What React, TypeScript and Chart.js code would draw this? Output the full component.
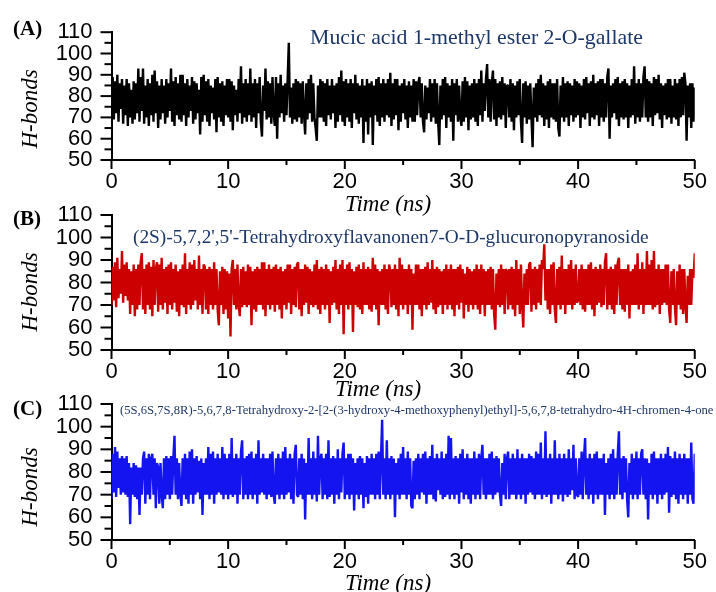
import React, { useEffect, useRef } from "react";
import { Chart, registerables } from "chart.js";

Chart.register(...registerables);

// ---------- data ----------
const TIME_STEP = 0.1; // ns between saved frames
const TIME_MAX = 50;
const Y_MIN = 50;
const Y_MAX = 110;

const hbondsA = [
  80, 89, 69, 87, 72, 90, 68, 86, 74, 88, 67, 85, 71, 88, 66, 86, 70, 83, 67, 87,
  69, 86, 72, 93, 68, 89, 73, 93, 67, 85, 70, 88, 66, 86, 71, 90, 68, 92, 72, 87,
  65, 85, 69, 88, 72, 85, 67, 88, 70, 86, 73, 93, 68, 87, 66, 89, 71, 86, 69, 90,
  68, 90, 71, 86, 66, 88, 70, 85, 73, 89, 67, 87, 69, 86, 72, 83, 62, 89, 68, 90,
  71, 87, 68, 88, 66, 85, 72, 84, 69, 88, 63, 89, 70, 86, 68, 87, 66, 85, 71, 88,
  70, 88, 68, 87, 64, 85, 71, 83, 68, 88, 72, 94, 67, 86, 70, 88, 68, 86, 71, 93,
  68, 86, 70, 88, 65, 86, 72, 89, 68, 61, 85, 73, 93, 69, 87, 70, 86, 67, 89, 72,
  66, 89, 60, 86, 70, 90, 72, 85, 68, 86, 71, 88, 105, 70, 84, 67, 86, 69, 88, 68,
  87, 70, 86, 67, 87, 72, 62, 86, 69, 88, 72, 90, 68, 86, 70, 65, 59, 85, 70, 88,
  70, 87, 68, 86, 66, 88, 71, 85, 69, 88, 72, 85, 65, 86, 68, 89, 71, 92, 68, 87,
  66, 88, 70, 86, 68, 88, 65, 86, 72, 90, 69, 86, 67, 85, 70, 88, 58, 85, 68, 88,
  62, 86, 70, 87, 57, 85, 71, 88, 68, 89, 66, 86, 70, 88, 68, 86, 71, 88, 70, 91,
  66, 86, 69, 88, 71, 88, 64, 85, 68, 86, 72, 88, 69, 85, 65, 87, 70, 85, 68, 88,
  68, 87, 71, 86, 89, 70, 86, 68, 63, 85, 69, 84, 72, 88, 68, 86, 70, 88, 67, 86,
  68, 57, 85, 69, 88, 71, 89, 65, 86, 70, 85, 68, 88, 59, 86, 71, 88, 68, 85, 70,
  66, 87, 68, 89, 70, 87, 64, 85, 69, 86, 70, 88, 68, 86, 66, 88, 71, 92, 68, 86,
  73, 88, 95, 70, 88, 68, 86, 92, 69, 88, 66, 86, 70, 87, 69, 89, 71, 86, 65, 85,
  85, 70, 88, 68, 86, 64, 85, 70, 87, 71, 88, 68, 58, 86, 70, 87, 67, 85, 69, 86,
  70, 56, 84, 70, 86, 68, 88, 71, 90, 70, 86, 66, 85, 69, 87, 65, 88, 70, 86, 69,
  86, 68, 88, 65, 61, 85, 70, 89, 68, 86, 70, 87, 66, 86, 71, 85, 68, 88, 70, 87,
  71, 86, 65, 85, 70, 88, 69, 89, 72, 86, 66, 87, 70, 90, 69, 86, 71, 87, 66, 88,
  70, 88, 68, 86, 70, 89, 93, 60, 85, 70, 86, 72, 88, 69, 89, 66, 86, 70, 87, 69,
  88, 70, 86, 65, 85, 70, 88, 71, 94, 67, 86, 70, 88, 68, 86, 70, 89, 94, 70, 88,
  68, 87, 70, 86, 66, 89, 71, 88, 72, 90, 69, 86, 65, 85, 71, 86, 69, 88, 70, 88,
  67, 85, 70, 88, 69, 86, 66, 88, 70, 89, 71, 91, 86, 59, 85, 70, 86, 65, 86, 68,
  84,
];

const hbondsB = [
  70, 87, 72, 89, 69, 91, 73, 86, 75, 94, 71, 88, 74, 89, 72, 86, 66, 85, 70, 88,
  65, 86, 68, 88, 70, 89, 93, 68, 86, 66, 88, 70, 89, 68, 87, 65, 90, 70, 86, 89,
  67, 88, 70, 91, 68, 86, 71, 87, 66, 88, 70, 89, 68, 86, 71, 88, 67, 85, 65, 86,
  70, 88, 69, 93, 66, 86, 70, 89, 68, 88, 70, 90, 72, 86, 68, 92, 70, 86, 66, 88,
  87, 68, 86, 66, 87, 70, 86, 68, 89, 70, 86, 68, 61, 85, 70, 87, 66, 86, 68, 85,
  64, 84, 56, 86, 90, 70, 86, 68, 88, 70, 65, 86, 69, 87, 70, 85, 69, 88, 70, 87,
  61, 85, 68, 86, 67, 87, 70, 86, 70, 89, 68, 89, 65, 86, 70, 88, 68, 86, 70, 87,
  67, 88, 70, 86, 68, 87, 64, 85, 70, 86, 68, 88, 71, 88, 66, 86, 70, 87, 69, 88,
  89, 68, 86, 65, 86, 70, 88, 71, 87, 66, 86, 70, 85, 69, 88, 70, 90, 68, 86, 66,
  87, 70, 86, 68, 88, 70, 86, 62, 85, 70, 87, 71, 90, 68, 86, 66, 88, 70, 90, 57,
  86, 70, 88, 68, 89, 70, 86, 58, 85, 70, 87, 69, 88, 68, 86, 66, 89, 70, 86, 70,
  87, 68, 86, 67, 91, 70, 88, 68, 86, 61, 85, 70, 86, 70, 88, 68, 86, 66, 88, 85,
  69, 86, 70, 88, 68, 86, 65, 91, 70, 88, 68, 86, 70, 86, 66, 88, 70, 86, 59, 84,
  70, 88, 70, 88, 68, 86, 65, 86, 70, 87, 68, 89, 70, 86, 71, 90, 68, 86, 66, 87,
  69, 86, 70, 85, 66, 86, 70, 88, 68, 86, 70, 88, 68, 86, 65, 86, 70, 87, 68, 88,
  71, 86, 64, 84, 70, 87, 67, 86, 70, 85, 68, 86, 70, 88, 68, 86, 66, 88, 70, 86,
  65, 85, 70, 86, 70, 87, 68, 86, 66, 59, 84, 70, 86, 69, 88, 70, 86, 66, 86, 85,
  68, 86, 70, 87, 68, 86, 65, 90, 70, 86, 66, 88, 70, 60, 84, 70, 86, 70, 88, 89,
  67, 86, 70, 87, 68, 86, 71, 88, 70, 90, 86, 97, 72, 86, 68, 86, 66, 88, 70, 89,
  68, 62, 86, 70, 87, 68, 92, 70, 86, 66, 86, 70, 88, 70, 90, 68, 86, 70, 88, 71,
  72, 86, 70, 88, 68, 86, 67, 86, 70, 88, 70, 89, 68, 86, 65, 87, 70, 86, 71, 88,
  69, 86, 70, 89, 93, 68, 86, 70, 87, 68, 86, 66, 88, 70, 89, 91, 70, 86, 68, 86,
  67, 86, 70, 88, 64, 85, 70, 86, 70, 88, 70, 93, 68, 86, 70, 89, 66, 86, 70, 94,
  70, 88, 70, 90, 68, 94, 69, 86, 70, 88, 66, 86, 70, 86, 71, 88, 70, 88, 68, 62,
  85, 70, 86, 69, 61, 85, 70, 88, 68, 86, 66, 86, 70, 62, 83, 70, 86, 70, 86, 82,
  93,
];

const hbondsC = [
  68, 88, 71, 91, 69, 89, 73, 86, 70, 87, 71, 86, 70, 87, 69, 84, 57, 82, 70, 84,
  69, 83, 68, 82, 61, 82, 70, 86, 89, 66, 86, 70, 88, 68, 86, 88, 70, 86, 64, 84,
  82, 66, 84, 70, 64, 86, 68, 87, 70, 86, 68, 87, 70, 86, 96, 70, 86, 68, 84, 70,
  65, 86, 70, 88, 68, 86, 66, 89, 70, 90, 66, 86, 70, 87, 71, 85, 68, 86, 61, 84,
  70, 86, 70, 91, 68, 88, 70, 89, 66, 86, 70, 88, 71, 86, 70, 91, 68, 88, 70, 86,
  68, 88, 70, 95, 69, 86, 70, 88, 66, 86, 70, 89, 94, 68, 86, 70, 87, 68, 88, 70,
  89, 68, 86, 70, 88, 66, 94, 70, 86, 71, 88, 70, 86, 68, 86, 70, 88, 69, 89, 70,
  66, 86, 70, 88, 68, 86, 70, 89, 68, 91, 70, 86, 71, 88, 68, 86, 66, 88, 92, 70,
  69, 86, 70, 88, 68, 86, 59, 84, 70, 95, 70, 86, 68, 89, 70, 86, 67, 96, 70, 86,
  88, 68, 86, 70, 88, 68, 94, 69, 86, 70, 87, 66, 86, 70, 90, 68, 86, 71, 88, 93,
  68, 86, 70, 88, 68, 88, 70, 86, 63, 84, 70, 86, 68, 87, 70, 86, 64, 84, 69, 87,
  66, 86, 70, 88, 70, 86, 68, 88, 70, 89, 68, 86, 103, 70, 86, 68, 94, 70, 86, 68,
  87, 70, 86, 60, 84, 70, 86, 68, 88, 70, 91, 70, 86, 68, 89, 70, 86, 65, 64, 85,
  68, 86, 70, 88, 68, 86, 71, 88, 70, 89, 66, 86, 70, 87, 70, 92, 68, 86, 67, 88,
  72, 86, 70, 89, 68, 86, 69, 88, 70, 96, 68, 95, 70, 86, 68, 87, 70, 86, 66, 88,
  71, 90, 68, 86, 70, 88, 68, 86, 66, 86, 70, 89, 68, 86, 70, 88, 68, 86, 92, 70,
  86, 68, 86, 70, 88, 70, 89, 68, 86, 70, 87, 71, 86, 70, 65, 84, 70, 88, 68, 86,
  89, 68, 86, 70, 88, 70, 86, 68, 90, 70, 86, 68, 88, 70, 86, 66, 86, 70, 88, 71,
  87, 70, 86, 68, 89, 70, 88, 70, 93, 68, 86, 70, 98, 69, 86, 70, 88, 66, 86, 70,
  94, 70, 86, 68, 88, 70, 86, 67, 88, 70, 86, 69, 90, 70, 86, 72, 92, 68, 86, 70,
  69, 86, 70, 89, 68, 86, 95, 70, 86, 68, 88, 70, 86, 66, 88, 70, 89, 68, 86, 70,
  86, 70, 88, 61, 84, 70, 86, 68, 88, 70, 90, 68, 86, 70, 88, 98, 70, 86, 68, 87,
  71, 86, 68, 60, 84, 70, 88, 68, 86, 70, 89, 68, 86, 70, 88, 90, 70, 86, 68, 86,
  59, 84, 70, 88, 68, 89, 70, 86, 66, 86, 70, 88, 68, 86, 70, 88, 71, 91, 62, 87,
  69, 86, 70, 89, 68, 86, 66, 88, 70, 86, 68, 88, 70, 86, 66, 86, 70, 93, 68, 66,
  88,
];

const panelLabels = ["(A)", "(B)", "(C)"];
const compoundNames = [
  "Mucic acid 1-methyl ester 2-O-gallate",
  "(2S)-5,7,2',5'-Tetrahydroxyflavanonen7-O-D-glucuronopyranoside",
  "(5S,6S,7S,8R)-5,6,7,8-Tetrahydroxy-2-[2-(3-hydroxy-4-methoxyphenyl)ethyl]-5,6,7,8-tetrahydro-4H-chromen-4-one",
];
const xAxisTitle = "Time (ns)";
const yAxisTitle = "H-bonds";

// ---------- layout / style ----------
const W = 716;
const H = 592;
const PLOT_LEFT = 111.5;
const PLOT_RIGHT = 700;
const X_AXIS_H = 30;
const SANS = '"Liberation Sans", Arial, sans-serif';
const SERIF = '"Liberation Serif", "Times New Roman", serif';
const NAME_COLOR = "#1d3768";

const panels = [
  {
    series: hbondsA, color: "#000000", top: 24, bottom: 160,
    labelBase: 35, nameX: 310, nameBase: 44, nameW: 333,
    yTitleY: 109, xTitleX: 388, xTitleBase: 211,
  },
  {
    series: hbondsB, color: "#cc0000", top: 215, bottom: 350,
    labelBase: 225, nameX: 133, nameBase: 243, nameW: 516,
    yTitleY: 292, xTitleX: 378, xTitleBase: 396,
  },
  {
    series: hbondsC, color: "#1414f0", top: 404, bottom: 540,
    labelBase: 415, nameX: 120, nameBase: 414, nameW: 594,
    yTitleY: 487, xTitleX: 388, xTitleBase: 590,
  },
];

function fitSize(ctx: CanvasRenderingContext2D, text: string, style: string, family: string, width: number) {
  ctx.font = `${style} 100px ${family}`;
  const w = ctx.measureText(text).width;
  return (100 * width) / w;
}

function makeDecor(i: number) {
  const p = panels[i];
  return {
    id: "decor" + i,
    afterDraw(chart: any) {
      const ctx: CanvasRenderingContext2D = chart.ctx;
      const xs = chart.scales.x;
      const ys = chart.scales.y;
      const { left, bottom } = chart.chartArea;
      ctx.save();
      ctx.strokeStyle = "#000";
      ctx.lineWidth = 2;
      for (let v = Y_MIN; v <= Y_MAX; v += 5) {
        const y = ys.getPixelForValue(v);
        const len = v % 10 === 0 ? 11 : 7;
        ctx.beginPath();
        ctx.moveTo(left - len, y);
        ctx.lineTo(left, y);
        ctx.stroke();
      }
      for (let t = 0; t <= TIME_MAX; t += 5) {
        const x = xs.getPixelForValue(t);
        const len = t % 10 === 0 ? 9 : 5;
        ctx.beginPath();
        ctx.moveTo(x, bottom);
        ctx.lineTo(x, bottom + len);
        ctx.stroke();
      }
      ctx.fillStyle = "#000";
      ctx.textAlign = "left";
      ctx.textBaseline = "alphabetic";
      ctx.font = `bold 21px ${SERIF}`;
      ctx.fillText(panelLabels[i], 13, p.labelBase);
      const size = fitSize(ctx, compoundNames[i], "normal", SERIF, p.nameW);
      ctx.font = `normal ${size}px ${SERIF}`;
      ctx.fillStyle = NAME_COLOR;
      ctx.fillText(compoundNames[i], p.nameX, p.nameBase);
      ctx.fillStyle = "#000";
      ctx.textAlign = "center";
      ctx.font = `italic 23px ${SERIF}`;
      ctx.fillText(xAxisTitle, p.xTitleX, p.xTitleBase);
      ctx.save();
      ctx.translate(31, p.yTitleY);
      ctx.rotate(-Math.PI / 2);
      ctx.textBaseline = "middle";
      ctx.font = `italic 23px ${SERIF}`;
      ctx.fillText(yAxisTitle, 0, 0);
      ctx.restore();
      ctx.restore();
    },
  };
}

function Panel({ index }: { index: number }) {
  const ref = useRef<HTMLCanvasElement | null>(null);
  useEffect(() => {
    const p = panels[index];
    const chart = new Chart(ref.current as HTMLCanvasElement, {
      type: "line",
      data: {
        datasets: [
          {
            data: p.series.map((y, i) => ({ x: i * TIME_STEP, y })),
            borderColor: p.color,
            borderWidth: 2.4,
            pointRadius: 0,
            tension: 0,
            fill: false,
            borderJoinStyle: "bevel",
          },
        ],
      },
      options: {
        responsive: false,
        animation: false,
        events: [],
        layout: {
          padding: { left: 0, right: W - PLOT_RIGHT, top: p.top, bottom: H - p.bottom - X_AXIS_H },
        },
        plugins: { legend: { display: false }, tooltip: { enabled: false } },
        scales: {
          x: {
            type: "linear",
            min: 0,
            max: TIME_MAX,
            grid: { display: false, drawTicks: false },
            border: { display: true, color: "#000", width: 2 },
            ticks: {
              stepSize: 10,
              autoSkip: false,
              color: "#000",
              padding: 9,
              maxRotation: 0,
              font: { family: SANS, size: 22 },
            },
            afterFit: (s: any) => { s.height = X_AXIS_H; },
          },
          y: {
            min: Y_MIN,
            max: Y_MAX,
            grid: { display: false, drawTicks: false },
            border: { display: true, color: "#000", width: 2 },
            ticks: {
              stepSize: 10,
              autoSkip: false,
              color: "#000",
              padding: 19,
              font: { family: SANS, size: 22 },
            },
            afterFit: (s: any) => { s.width = PLOT_LEFT; },
          },
        },
      },
      plugins: [makeDecor(index)],
    } as any);
    return () => chart.destroy();
  }, [index]);
  return (
    <canvas
      ref={ref}
      width={W}
      height={H}
      style={{ position: "absolute", left: 0, top: 0, width: W, height: H }}
    />
  );
}

export default function App() {
  return (
    <div style={{ position: "absolute", left: 0, top: 0, width: W, height: H, background: "#fff" }}>
      <Panel index={0} />
      <Panel index={1} />
      <Panel index={2} />
    </div>
  );
}
